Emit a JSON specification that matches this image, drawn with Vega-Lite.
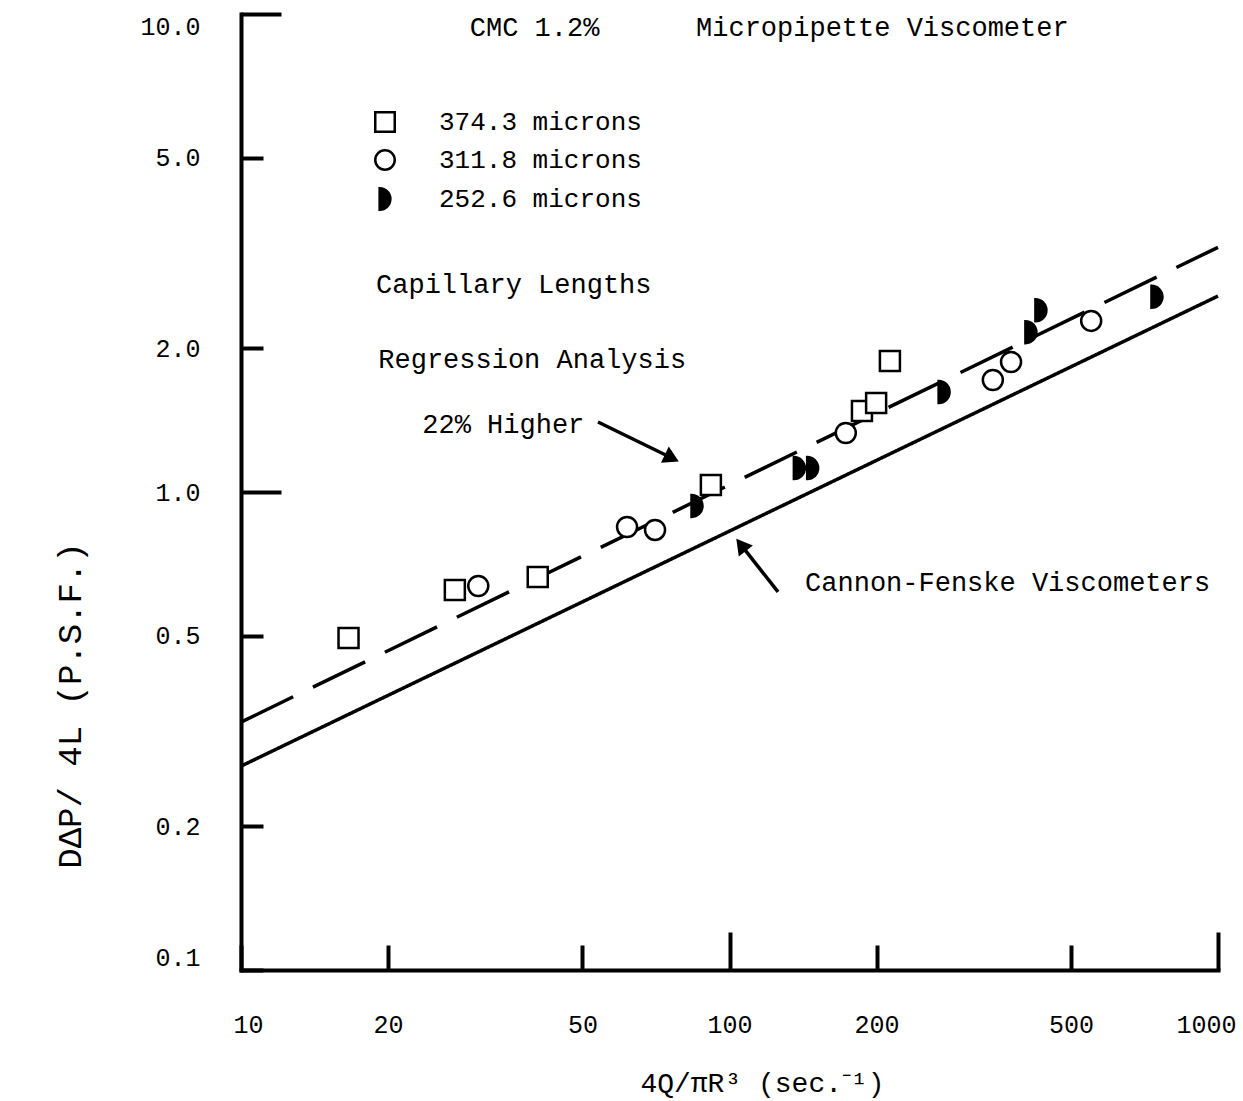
{
  "$schema": "https://vega.github.io/schema/vega-lite/v6.json",
  "width": 977,
  "height": 956,
  "autosize": {"type": "none"},
  "padding": {"left": 241, "top": 14, "right": 25, "bottom": 131},
  "background": "white",
  "config": {
    "view": {"stroke": null},
    "font": "Liberation Mono",
    "legend": {
      "title": null, "orient": "none", "legendX": 131, "legendY": 95, "padding": 0,
      "labelFont": "Liberation Mono", "labelFontSize": 26, "labelColor": "black", "labelLimit": 0,
      "symbolSize": 380, "symbolStrokeWidth": 2.5, "symbolStrokeColor": "black",
      "rowPadding": 8, "labelOffset": 41
    }
  },
  "datasets": {
    "points": [
      {"series": "374.3 microns", "x": 16.6, "y": 0.495},
      {"series": "374.3 microns", "x": 27.4, "y": 0.624},
      {"series": "374.3 microns", "x": 40.5, "y": 0.664},
      {"series": "374.3 microns", "x": 91.6, "y": 1.034},
      {"series": "374.3 microns", "x": 186.7, "y": 1.477},
      {"series": "374.3 microns", "x": 199.6, "y": 1.535},
      {"series": "374.3 microns", "x": 213, "y": 1.88},
      {"series": "311.8 microns", "x": 30.6, "y": 0.636},
      {"series": "311.8 microns", "x": 61.7, "y": 0.845},
      {"series": "311.8 microns", "x": 70.4, "y": 0.833},
      {"series": "311.8 microns", "x": 173, "y": 1.329},
      {"series": "311.8 microns", "x": 346, "y": 1.715},
      {"series": "311.8 microns", "x": 377, "y": 1.87},
      {"series": "311.8 microns", "x": 550, "y": 2.28},
      {"series": "252.6 microns", "x": 85.8, "y": 0.935},
      {"series": "252.6 microns", "x": 139, "y": 1.122},
      {"series": "252.6 microns", "x": 148, "y": 1.122},
      {"series": "252.6 microns", "x": 275, "y": 1.619},
      {"series": "252.6 microns", "x": 414, "y": 2.16},
      {"series": "252.6 microns", "x": 434, "y": 2.4},
      {"series": "252.6 microns", "x": 750, "y": 2.56}
    ],
    "lines": [
      {"series": "Cannon-Fenske Viscometers", "x": 10, "y": 0.267},
      {"series": "Cannon-Fenske Viscometers", "x": 1000, "y": 2.57},
      {"series": "22% Higher", "x": 10, "y": 0.33},
      {"series": "22% Higher", "x": 1000, "y": 3.25}
    ],
    "notes": [
      {"text": "CMC 1.2%", "x": 29.4, "y": 9.35},
      {"text": "Micropipette Viscometer", "x": 85.4, "y": 9.35},
      {"text": "Capillary Lengths", "x": 18.9, "y": 2.71},
      {"text": "Regression Analysis", "x": 19.1, "y": 1.889},
      {"text": "22% Higher", "x": 23.5, "y": 1.381},
      {"text": "Cannon-Fenske Viscometers", "x": 142.8, "y": 0.645}
    ],
    "arrows": [
      {"arrow": "a1", "x": 53.8, "y": 1.401},
      {"arrow": "a1", "x": 76.2, "y": 1.178},
      {"arrow": "a2", "x": 125.7, "y": 0.618},
      {"arrow": "a2", "x": 105.6, "y": 0.775}
    ],
    "heads": [
      {"arrow": "a1", "x": 76.2, "y": 1.178},
      {"arrow": "a2", "x": 105.6, "y": 0.775}
    ]
  },
  "encoding": {
    "x": {
      "field": "x",
      "type": "quantitative",
      "scale": {"type": "log", "domain": [10, 1000], "nice": false},
      "axis": {
        "title": "4Q/πR³   (sec.⁻¹)",
        "values": [10, 20, 50, 100, 200, 500, 1000],
        "format": "d",
        "grid": false,
        "domainColor": "black",
        "domainWidth": 4,
        "domainCap": "square",
        "tickColor": "black",
        "tickWidth": 4,
        "tickSize": {"condition": {"test": "datum.value == 100 || datum.value == 1000", "value": -38}, "value": -25},
        "labelPadding": {"condition": {"test": "datum.value == 100 || datum.value == 1000", "value": 80}, "value": 67},
        "labelOffset": {"condition": [{"test": "datum.value == 1000", "value": -12}, {"test": "datum.value == 10", "value": 7}], "value": 0},
        "labelFont": "Liberation Mono",
        "labelFontSize": 25,
        "labelColor": "black",
        "labelFlush": false,
        "labelBound": false,
        "labelBaseline": "top",
        "titleFont": "Liberation Mono",
        "titleFontSize": 28,
        "titleFontWeight": "normal",
        "titleColor": "black",
        "titleX": 521,
        "titleY": 113,
        "titleBaseline": "middle",
        "titleAlign": "center"
      }
    },
    "y": {
      "field": "y",
      "type": "quantitative",
      "scale": {"type": "log", "domain": [0.1, 10], "nice": false},
      "axis": {
        "title": "DΔP/ 4L  (P.S.F.)",
        "values": [0.1, 0.2, 0.5, 1, 2, 5, 10],
        "format": ".1f",
        "grid": false,
        "domainColor": "black",
        "domainWidth": 4,
        "domainCap": "square",
        "tickColor": "black",
        "tickWidth": 4,
        "tickSize": {"condition": {"test": "datum.value == 1 || datum.value == 10", "value": -40}, "value": -22},
        "labelPadding": {"condition": {"test": "datum.value == 1 || datum.value == 10", "value": 81}, "value": 63},
        "labelFont": "Liberation Mono",
        "labelFontSize": 25,
        "labelColor": "black",
        "labelFlush": true,
        "titleFont": "Liberation Mono",
        "titleFontSize": 34,
        "titleFontWeight": "normal",
        "titleColor": "black",
        "titleX": -171,
        "titleY": 691,
        "titleBaseline": "middle",
        "titleAlign": "center",
        "titleAngle": 270
      }
    }
  },
  "layer": [
    {
      "data": {"name": "lines"},
      "mark": {"type": "line", "color": "black", "strokeWidth": 3.5},
      "encoding": {
        "detail": {"field": "series", "type": "nominal"},
        "strokeDash": {
          "field": "series",
          "type": "nominal",
          "scale": {"domain": ["Cannon-Fenske Viscometers", "22% Higher"], "range": [[1, 0], [58, 22]]},
          "legend": null
        }
      }
    },
    {
      "data": {"name": "points"},
      "mark": {"type": "point", "filled": true, "strokeWidth": 2.5, "size": 400, "opacity": 1},
      "encoding": {
        "shape": {
          "field": "series",
          "type": "nominal",
          "scale": {"domain": ["374.3 microns", "311.8 microns", "252.6 microns"], "range": ["square", "circle", "M-0.55,-1.1A1.1,1.1 0 0 1 -0.55,1.1Z"]}
        },
        "fill": {
          "field": "series",
          "type": "nominal",
          "scale": {"domain": ["374.3 microns", "311.8 microns", "252.6 microns"], "range": ["white", "white", "black"]}
        },
        "stroke": {
          "field": "series",
          "type": "nominal",
          "scale": {"domain": ["374.3 microns", "311.8 microns", "252.6 microns"], "range": ["black", "black", "black"]}
        }
      }
    },
    {
      "data": {"name": "notes"},
      "mark": {"type": "text", "align": "left", "baseline": "middle", "font": "Liberation Mono", "fontSize": 27, "color": "black"},
      "encoding": {"text": {"field": "text", "type": "nominal"}}
    },
    {
      "data": {"name": "arrows"},
      "mark": {"type": "line", "color": "black", "strokeWidth": 3.5},
      "encoding": {"detail": {"field": "arrow", "type": "nominal"}}
    },
    {
      "data": {"name": "heads"},
      "transform": [{"filter": "datum.arrow == 'a1'"}],
      "mark": {"type": "point", "shape": "triangle-right", "filled": true, "color": "black", "size": 320, "angle": 26, "opacity": 1}
    },
    {
      "data": {"name": "heads"},
      "transform": [{"filter": "datum.arrow == 'a2'"}],
      "mark": {"type": "point", "shape": "triangle-right", "filled": true, "color": "black", "size": 320, "angle": 232, "opacity": 1}
    }
  ]
}
